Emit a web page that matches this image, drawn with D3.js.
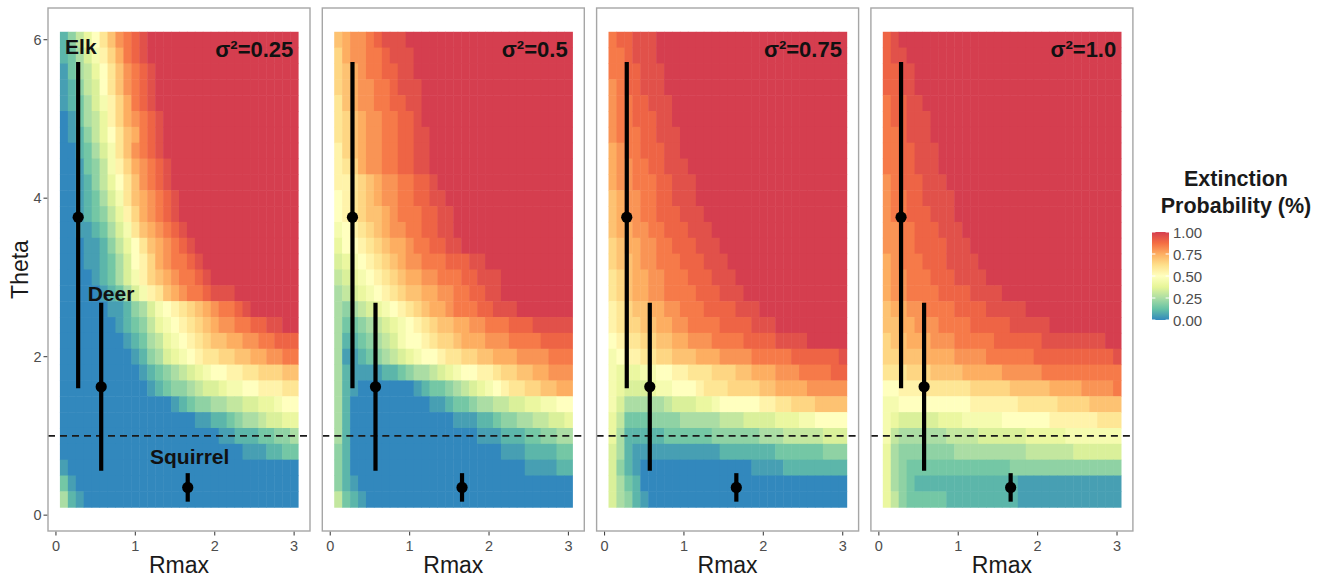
<!DOCTYPE html>
<html>
<head>
<meta charset="utf-8">
<script src="https://cdn.jsdelivr.net/npm/d3@7"></script>
<style>
html,body{margin:0;padding:0;background:#fff;}
svg{display:block;font-family:"Liberation Sans",Arial,Helvetica,sans-serif;}
</style>
</head>
<body>
<svg id="chart" width="1322" height="579"></svg>
<script>
// ---------------- DATA ----------------
const sigmaLabels = ["σ²=0.25", "σ²=0.5", "σ²=0.75", "σ²=1.0"];
const rmaxCenters = [0.1,0.2,0.3,0.4,0.5,0.6,0.7,0.8,0.9,1.0,1.1,1.2,1.3,1.4,1.5,1.6,1.7,1.8,1.9,2.0,2.1,2.2,2.3,2.4,2.5,2.6,2.7,2.8,2.9,3.0];
const thetaCenters = [6.0,5.8,5.6,5.4,5.2,5.0,4.8,4.6,4.4,4.2,4.0,3.8,3.6,3.4,3.2,3.0,2.8,2.6,2.4,2.2,2.0,1.8,1.6,1.4,1.2,1.0,0.8,0.6,0.4,0.2];
// extinction probability codes: character index / 20 (0 = 0.00 ... k = 1.00); rows top (theta 6.0) to bottom (theta 0.2)
const levelCodes = "0123456789abcdefghijk";

const gridSigma025 = [
"2468a ceghi jkkkk kkkkk kkkkk kkkkk",
"23579 bdfhi jkkkk kkkkk kkkkk kkkkk",
"13568 acegh ijkkk kkkkk kkkkk kkkkk",
"12467 acegh ijkkk kkkkk kkkkk kkkkk",
"12357 9bdfh ijkkk kkkkk kkkkk kkkkk",
"01356 8bdfg hijkk kkkkk kkkkk kkkkk",
"01246 8acef hijkk kkkkk kkkkk kkkkk",
"00235 79ceg hijkk kkkkk kkkkk kkkkk",
"00134 69bdf ghijk kkkkk kkkkk kkkkk",
"00124 68ace ghijk kkkkk kkkkk kkkkk",
"00123 579ce fghij kkkkk kkkkk kkkkk",
"00123 468bd fghij kkkkk kkkkk kkkkk",
"00112 3579c efghi jkkkk kkkkk kkkkk",
"00011 2468a cefgh ijkkk kkkkk kkkkk",
"00011 2357a bdfgh hijkk kkkkk kkkkk",
"00001 23579 bdefg hhijk kkkkk kkkkk",
"00000 12357 9bcef ghhij jjkkk kkkkk",
"00000 01124 579ab cdefg hhijk kkkkk",
"00000 00123 4689a bcdef gghhi ijjkk",
"00000 00012 35689 abcde effgg hhiii",
"00000 00001 24578 9abcc ddeef fgghh",
"00000 00000 12345 6789a abbcc dddee",
"00000 00000 01234 45677 899aa bbbcc",
"00000 00000 00001 23445 56677 889aa",
"00000 00000 00000 00112 23455 67788",
"00000 00000 00000 00000 11222 33445",
"00000 00000 00000 00000 00011 12233",
"10000 00000 00000 00000 00000 00000",
"31000 00000 00000 00000 00000 00000",
"52100 00000 00000 00000 00000 00000"
];

const gridSigma05 = [
"efggh ijjjk kkkkk kkkkk kkkkk kkkkk",
"dfggh hijjj kkkkk kkkkk kkkkk kkkkk",
"defgh hiijj kkkkk kkkkk kkkkk kkkkk",
"defgg hhijj jkkkk kkkkk kkkkk kkkkk",
"cefgg hhiij jkkkk kkkkk kkkkk kkkkk",
"cdefg ghhii jkkkk kkkkk kkkkk kkkkk",
"cdefg ghhii jjkkk kkkkk kkkkk kkkkk",
"bdefg ghhii jjkkk kkkkk kkkkk kkkkk",
"bcdfg ghhii jjkkk kkkkk kkkkk kkkkk",
"bbcde fgghh iijkk kkkkk kkkkk kkkkk",
"abcde fgghh iijjk kkkkk kkkkk kkkkk",
"abcde efghh hiijj kkkkk kkkkk kkkkk",
"9abcd efggh hiijj kkkkk kkkkk kkkkk",
"8aabc deffg hhiij jkkkk kkkkk kkkkk",
"789ab cdefg ghhhi iijjk kkkkk kkkkk",
"6789a bcdef fgghh hiijj jkkkk kkkkk",
"56789 abcde effgg hhiij jkkkk kkkkk",
"54567 89abc deffg hhhii jjjkk kkkkk",
"53345 6789a bcdee ffggh hhiii jjjjj",
"52234 5679a abcdd efffg gghhh hiiii",
"51123 45678 9aabc cddee fffgg gghhh",
"52111 12234 55678 9aabb cddee ffggg",
"52100 00000 12334 56789 abccd deeff",
"52000 00000 00112 33455 66778 899aa",
"52000 00000 00000 11122 34455 66778",
"52000 00000 00000 00011 12223 34455",
"42000 00000 00000 00000 01112 22233",
"42000 00000 00000 00000 00001 11122",
"42100 00000 00000 00000 00000 00000",
"63210 00000 00000 00000 00000 00000"
];

const gridSigma075 = [
"hiijj jkkkk kkkkk kkkkk kkkkk kkkkk",
"hhijj jkkkk kkkkk kkkkk kkkkk kkkkk",
"hhiij jjkkk kkkkk kkkkk kkkkk kkkkk",
"ghiij jjkkk kkkkk kkkkk kkkkk kkkkk",
"ghhii jjjkk kkkkk kkkkk kkkkk kkkkk",
"ghhii ijjkk kkkkk kkkkk kkkkk kkkkk",
"ghhhi ijjjk kkkkk kkkkk kkkkk kkkkk",
"fghhi iijjk kkkkk kkkkk kkkkk kkkkk",
"fgghh iijjj kkkkk kkkkk kkkkk kkkkk",
"fgghh hiijj jkkkk kkkkk kkkkk kkkkk",
"efggh hiijj jkkkk kkkkk kkkkk kkkkk",
"efggh hiiij jjkkk kkkkk kkkkk kkkkk",
"effgg hhiii jjjkk kkkkk kkkkk kkkkk",
"deffg ghhii ijjjk kkkkk kkkkk kkkkk",
"deefg ghhhi iijjj kkkkk kkkkk kkkkk",
"cdeff gghhh iiijj jkkkk kkkkk kkkkk",
"cdeff gghhh hiiij jjkkk kkkkk kkkkk",
"bcdee ffggh hhiii ijjjk kkkkk kkkkk",
"bcdde effgg hhhhi iiijj jkkkk kkkkk",
"abccd deeff ggghh hhiii ijjjj kkkkk",
"9abbc cddee efffg ggghh hhhii iiiij",
"98889 9aabb cccdd deeff fgggh hhhii",
"98777 899aa abccc dddde effff ggggg",
"97555 55677 7889a aaaab bccdd deeee",
"86333 44445 55556 66777 78889 9aaaa",
"85222 22333 33344 44445 55666 66777",
"75211 11111 11112 22222 23333 33444",
"74210 00000 00000 00011 11222 22222",
"75320 00000 00000 00000 00000 00000",
"75421 00000 00000 00000 00000 00000"
];

const gridSigma10 = [
"ijkkk kkkkk kkkkk kkkkk kkkkk kkkkk",
"ijjkk kkkkk kkkkk kkkkk kkkkk kkkkk",
"iijjk kkkkk kkkkk kkkkk kkkkk kkkkk",
"iijjk kkkkk kkkkk kkkkk kkkkk kkkkk",
"hiijj kkkkk kkkkk kkkkk kkkkk kkkkk",
"hiijj jkkkk kkkkk kkkkk kkkkk kkkkk",
"hhijj jkkkk kkkkk kkkkk kkkkk kkkkk",
"hhiij jjkkk kkkkk kkkkk kkkkk kkkkk",
"hhiij jjkkk kkkkk kkkkk kkkkk kkkkk",
"ghiii jjjkk kkkkk kkkkk kkkkk kkkkk",
"ghhii jjjjk kkkkk kkkkk kkkkk kkkkk",
"ghhii ijjjk kkkkk kkkkk kkkkk kkkkk",
"gghhi iijjj kkkkk kkkkk kkkkk kkkkk",
"gghhi iiijj jkkkk kkkkk kkkkk kkkkk",
"fghhh iiijj jjkkk kkkkk kkkkk kkkkk",
"fgghh hiiij jjjkk kkkkk kkkkk kkkkk",
"fgghh hhiii ijjjj kkkkk kkkkk kkkkk",
"effgg hhhhi iiijj jjjkk kkkkk kkkkk",
"eeffg gghhh hiiii ijjjj jkkkk kkkkk",
"deeff fgggh hhhhi iiiii jjjjj jjjkk",
"ddeee ffffg ggghh hhhhi iiiii iiiij",
"cccdd deeee fffff ggggg hhhhh hhhhh",
"aabbb ccccc cdddd deeee effff ggggh",
"99aaa aaaaa abbbb bbccc ccddd deeee",
"98777 77888 99999 aaaaa abbbb bbccc",
"96555 55566 66777 77788 88899 99999",
"85444 44445 55555 55566 66667 77777",
"85433 33333 33333 34444 44444 44444",
"85432 22222 22222 22111 11111 11111",
"86433 33322 22222 22111 11111 11111"
];

const speciesNames = ["Elk", "Deer", "Squirrel"];
const speciesRmax = [0.28, 0.57, 1.66];
const speciesTheta = [3.76, 1.62, 0.35];
const speciesThetaLow = [1.60, 0.56, 0.17];
const speciesThetaHigh = [5.72, 2.68, 0.53];

const referenceTheta = 1;
const xTickValues = [0, 1, 2, 3];
const yTickValues = [0, 2, 4, 6];
const legendTickValues = [0, 0.25, 0.5, 0.75, 1];
const legendTickLabels = ["0.00", "0.25", "0.50", "0.75", "1.00"];
const spectralColors = ["#3288BD","#66C2A5","#ABDDA4","#E6F598","#FFFFBF","#FEE08B","#FDAE61","#F46D43","#D53E4F"];

// ---------------- DRAW ----------------
const svg = d3.select("#chart");
svg.append("rect").attr("width", 1322).attr("height", 579).attr("fill", "#fff");

const grids = [gridSigma025, gridSigma05, gridSigma075, gridSigma10];
const panelLeft0 = 48, panelStep = 274.3, panelW = 262, panelTop = 8, panelBottom = 531;

const color = d3.scaleLinear()
  .domain(spectralColors.map((c, i) => i / (spectralColors.length - 1)))
  .range(spectralColors)
  .interpolate(d3.interpolateRgb)
  .clamp(true);

// annotation placement (data coordinates of panel 1)
const speciesLabelPos = [[0.115, 5.82], [0.40, 2.70], [1.185, 0.645]];

grids.forEach((grid, p) => {
  const L = panelLeft0 + p * panelStep;
  const x = d3.scaleLinear().domain([-0.1, 3.2]).range([L, L + panelW]);
  const y = d3.scaleLinear().domain([-0.2, 6.4]).range([panelBottom, panelTop]);
  const g = svg.append("g");

  g.append("rect").attr("x", L).attr("y", panelTop).attr("width", panelW)
    .attr("height", panelBottom - panelTop).attr("fill", "#fff");

  const cells = [];
  grid.forEach((rowStr, j) => {
    const codes = rowStr.replace(/\s+/g, "");
    for (let c = 0; c < rmaxCenters.length && c < codes.length; c++) {
      cells.push({ r: rmaxCenters[c], t: thetaCenters[j], v: levelCodes.indexOf(codes[c]) / 20 });
    }
  });
  const cw = x(0.1) - x(0), ch = y(0) - y(0.2);
  g.append("g").selectAll("rect").data(cells).join("rect")
    .attr("x", d => x(d.r - 0.05))
    .attr("y", d => y(d.t + 0.1))
    .attr("width", cw + 0.5)
    .attr("height", ch + 0.5)
    .attr("fill", d => color(d.v));

  // reference line theta = 1
  g.append("line")
    .attr("x1", L).attr("x2", L + panelW)
    .attr("y1", y(referenceTheta)).attr("y2", y(referenceTheta))
    .attr("stroke", "#1a1a1a").attr("stroke-width", 1.6)
    .attr("stroke-dasharray", "7,5");

  // species error bars
  speciesNames.forEach((s, i) => {
    g.append("line")
      .attr("x1", x(speciesRmax[i])).attr("x2", x(speciesRmax[i]))
      .attr("y1", y(speciesThetaLow[i])).attr("y2", y(speciesThetaHigh[i]))
      .attr("stroke", "#000").attr("stroke-width", 4.2);
    g.append("circle")
      .attr("cx", x(speciesRmax[i])).attr("cy", y(speciesTheta[i]))
      .attr("r", 5.6).attr("fill", "#000");
  });

  // species labels only in first panel
  if (p === 0) {
    speciesNames.forEach((s, i) => {
      g.append("text")
        .attr("x", x(speciesLabelPos[i][0])).attr("y", y(speciesLabelPos[i][1]))
        .attr("font-size", 21).attr("font-weight", "bold").attr("fill", "#111")
        .text(s);
    });
  }

  // panel title
  g.append("text")
    .attr("x", x(2.99)).attr("y", 57)
    .attr("text-anchor", "end")
    .attr("font-size", 22).attr("font-weight", "bold").attr("fill", "#111")
    .text(sigmaLabels[p]);

  // border
  g.append("rect").attr("x", L).attr("y", panelTop).attr("width", panelW)
    .attr("height", panelBottom - panelTop)
    .attr("fill", "none").attr("stroke", "#a6a6a6").attr("stroke-width", 1.4);

  // x axis
  xTickValues.forEach(t => {
    g.append("line").attr("x1", x(t)).attr("x2", x(t))
      .attr("y1", panelBottom + 0.7).attr("y2", panelBottom + 4.5)
      .attr("stroke", "#444").attr("stroke-width", 1.1);
    g.append("text").attr("x", x(t)).attr("y", 551)
      .attr("text-anchor", "middle").attr("font-size", 14.5).attr("fill", "#4d4d4d")
      .text(t);
  });
  g.append("text").attr("x", L + panelW / 2).attr("y", 573)
    .attr("text-anchor", "middle").attr("font-size", 23).attr("fill", "#1a1a1a")
    .text("Rmax");

  if (p === 0) {
    yTickValues.forEach(t => {
      g.append("line").attr("x1", L - 4.5).attr("x2", L - 0.7)
        .attr("y1", y(t)).attr("y2", y(t))
        .attr("stroke", "#444").attr("stroke-width", 1.1);
      g.append("text").attr("x", L - 6.5).attr("y", y(t))
        .attr("text-anchor", "end").attr("dominant-baseline", "central")
        .attr("font-size", 14.5).attr("fill", "#4d4d4d")
        .text(t);
    });
    g.append("text")
      .attr("transform", `translate(28,${(panelTop + panelBottom) / 2}) rotate(-90)`)
      .attr("text-anchor", "middle")
      .attr("font-size", 23).attr("fill", "#1a1a1a")
      .text("Theta");
  }
});

// ---------------- LEGEND ----------------
const legX = 1152, legTop = 232, legW = 17, legH = 88;
const defs = svg.append("defs");
const grad = defs.append("linearGradient").attr("id", "legGrad")
  .attr("x1", 0).attr("y1", 1).attr("x2", 0).attr("y2", 0);
spectralColors.forEach((c, i) => {
  grad.append("stop").attr("offset", i / (spectralColors.length - 1)).attr("stop-color", c);
});
const legY = d3.scaleLinear().domain([0, 1]).range([legTop + legH, legTop]);
svg.append("rect").attr("x", legX).attr("y", legTop).attr("width", legW).attr("height", legH)
  .attr("fill", "url(#legGrad)");
legendTickValues.forEach((v, i) => {
  svg.append("line").attr("x1", legX).attr("x2", legX + 3.4)
    .attr("y1", legY(v)).attr("y2", legY(v)).attr("stroke", "#fff").attr("stroke-width", 1);
  svg.append("line").attr("x1", legX + legW - 3.4).attr("x2", legX + legW)
    .attr("y1", legY(v)).attr("y2", legY(v)).attr("stroke", "#fff").attr("stroke-width", 1);
  svg.append("text").attr("x", legX + legW + 4).attr("y", legY(v))
    .attr("dominant-baseline", "central").attr("font-size", 15).attr("fill", "#4d4d4d")
    .text(legendTickLabels[i]);
});
svg.append("text").attr("x", 1236).attr("y", 186).attr("text-anchor", "middle")
  .attr("font-size", 21.5).attr("font-weight", "bold").attr("fill", "#1a1a1a")
  .text("Extinction");
svg.append("text").attr("x", 1236).attr("y", 213).attr("text-anchor", "middle")
  .attr("font-size", 21.5).attr("font-weight", "bold").attr("fill", "#1a1a1a")
  .text("Probability (%)");
</script>
</body>
</html>
